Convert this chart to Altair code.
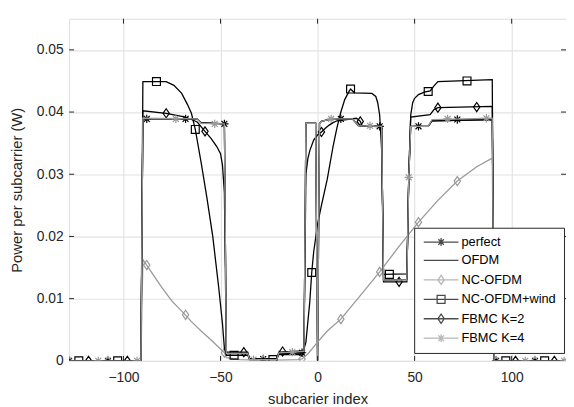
import altair as alt
import pandas as pd

SERIES = ["perfect", "OFDM", "NC-OFDM", "NC-OFDM+wind", "FBMC K=2", "FBMC K=4"]
COLORS = ["#000000", "#000000", "#999999", "#000000", "#000000", "#999999"]

# ---- line vertices (subcarrier index, power W) ----
perfect_x = [-128, -91, -90, -62, -60, -48, -47, -36, -35, -21, -20, -7, -6, -1, 0, 1, 2, 7, 18, 21, 33, 34, 46, 47, 48, 57, 59, 90, 91, 127]
perfect_y = [0, 0, 0.0389, 0.0389, 0.0383, 0.0381, 0.0012, 0.0012, 0.0003, 0.0003, 0.0012, 0.0013, 0.0382, 0.0382, 0.0, 0.0382, 0.0385, 0.0389, 0.0389, 0.0378, 0.0377, 0.0130, 0.0131, 0.0295, 0.0377, 0.0377, 0.0386, 0.0388, 0, 0]

ofdm_x = [-128, -91, -90, -62, -60, -48, -47, -36, -35, -21, -20, -7, -6, -1, 0, 1, 2, 7, 18, 21, 33, 34, 46, 47, 48, 57, 59, 90, 91, 127]
ofdm_y = [0, 0, 0.0389, 0.0389, 0.0383, 0.0381, 0.0012, 0.0012, 0.0003, 0.0003, 0.0012, 0.0013, 0.0382, 0.0382, 0.0, 0.0382, 0.0385, 0.0389, 0.0389, 0.0378, 0.0377, 0.0130, 0.0131, 0.0295, 0.0377, 0.0377, 0.0386, 0.0388, 0, 0]

nc_x = [-128, -91, -90, -85, -80, -75, -70, -65, -60, -55, -50, -48, -47, -40, -30, -20, -10, -8, -5, 0, 5, 12, 22, 32, 42, 52, 62, 72, 82, 90, 91, 127]
nc_y = [0, 0, 0.0163, 0.0140, 0.0117, 0.0096, 0.0080, 0.0063, 0.0048, 0.0034, 0.0019, 0.0013, 0.0005, 0.0002, 0.0001, 0.0001, 0.0002, 0.0003, 0.0011, 0.0030, 0.0048, 0.0067, 0.0105, 0.0143, 0.0184, 0.0223, 0.0258, 0.0289, 0.0312, 0.0326, 0, 0]

wind_x = [-128, -91, -90, -78, -74, -70, -67, -65, -63, -60, -57, -54, -51, -49, -48, -47, -36, -35, -21, -20, -9, -8, -6, -4, -3, -2, 0, 2, 5, 8, 10, 12, 14, 16, 17, 19, 28, 30, 31, 32, 33, 34, 46, 47, 48, 49, 50, 52, 55, 58, 60, 62, 90, 91, 127]
wind_y = [0, 0, 0.0449, 0.0449, 0.0443, 0.0430, 0.0412, 0.0398, 0.0372, 0.0319, 0.0262, 0.0200, 0.0120, 0.0060, 0.0020, 0.0009, 0.0009, 0.0002, 0.0002, 0.0010, 0.0010, 0.0008, 0.0030, 0.0095, 0.0142, 0.0175, 0.0220, 0.0250, 0.0292, 0.0345, 0.0375, 0.0400, 0.0420, 0.0432, 0.0437, 0.0431, 0.0430, 0.0425, 0.0415, 0.0395, 0.0340, 0.0139, 0.0140, 0.0300, 0.0395, 0.0415, 0.0422, 0.0428, 0.0432, 0.0434, 0.0442, 0.0449, 0.0452, 0, 0]

k2_x = [-128, -91, -90, -78, -68, -62, -58, -55, -52, -50, -49, -48, -47, -36, -35, -21, -20, -7, -6, -5, -4, -2, 0, 2, 4, 6, 8, 10, 20, 21, 22, 23, 33, 34, 46, 47, 48, 58, 60, 62, 90, 91, 127]
k2_y = [0, 0, 0.0402, 0.0398, 0.0392, 0.0384, 0.0369, 0.0358, 0.0345, 0.0333, 0.0315, 0.0270, 0.0014, 0.0014, 0.0003, 0.0003, 0.0014, 0.0016, 0.0300, 0.0325, 0.0338, 0.0355, 0.0363, 0.0368, 0.0374, 0.0379, 0.0383, 0.0386, 0.0390, 0.0388, 0.0385, 0.0378, 0.0376, 0.0127, 0.0127, 0.0300, 0.0392, 0.0396, 0.0404, 0.0407, 0.0409, 0, 0]

k4_x = [-128, -91, -90, -62, -60, -48, -47, -36, -35, -21, -20, -7, -6, -1, 0, 1, 2, 7, 18, 21, 33, 34, 46, 47, 48, 57, 59, 90, 91, 127]
k4_y = [0, 0, 0.0390, 0.0389, 0.0382, 0.0381, 0.0012, 0.0012, 0.0002, 0.0002, 0.0013, 0.0015, 0.0382, 0.0382, 0.0, 0.0382, 0.0385, 0.0389, 0.0389, 0.0378, 0.0377, 0.0130, 0.0130, 0.0295, 0.0377, 0.0377, 0.0388, 0.0390, 0, 0]

# ---- marker positions ----
perfect_mx = [-128, -108, -88, -68, -48, -28, -8, 12, 32, 52, 72, 92, 112]
perfect_my = [0, 0, 0.0389, 0.0389, 0.0381, 0.0003, 0.0013, 0.0389, 0.0377, 0.0377, 0.0388, 0, 0]
nc_mx = [-128, -108, -88, -68, -48, -28, -8, 12, 32, 52, 72, 92, 112]
nc_my = [0, 0, 0.0154, 0.0074, 0.0013, 0.0001, 0.0003, 0.0067, 0.0143, 0.0223, 0.0289, 0, 0]
wind_mx = [-123, -103, -83, -63, -43, -23, -3, 17, 37, 57, 77, 97, 117]
wind_my = [0, 0, 0.0449, 0.0372, 0.0009, 0.0002, 0.0142, 0.0437, 0.0139, 0.0433, 0.0450, 0, 0]
k2_mx = [-118, -98, -78, -58, -38, -18, 2, 22, 42, 62, 82, 102, 122]
k2_my = [0, 0, 0.0398, 0.0369, 0.0014, 0.0015, 0.0368, 0.0385, 0.0127, 0.0407, 0.0408, 0, 0]
k4_mx = [-113, -93, -73, -53, -33, -13, 7, 27, 47, 67, 87, 107, 127]
k4_my = [0, 0, 0.0389, 0.0381, 0.0002, 0.0014, 0.0389, 0.0378, 0.0295, 0.0389, 0.0390, 0, 0]

x_ticks = [-100, -50, 0, 50, 100]
y_ticks = [0, 0.01, 0.02, 0.03, 0.04, 0.05]

# ---- marker glyphs (unit square paths) ----
STAR = [("M", 0, -1), ("L", 0, 1), ("M", -1, 0), ("L", 1, 0), ("M", -0.7, -0.7), ("L", 0.7, 0.7), ("M", -0.7, 0.7), ("L", 0.7, -0.7)]
SQUARE = [("M", -1, -1), ("L", 1, -1), ("L", 1, 1), ("L", -1, 1), ("Z",)]
DIAMOND = [("M", 0, -1.15), ("L", 0.8, 0), ("L", 0, 1.15), ("L", -0.8, 0), ("Z",)]


def path(cmds, dx=0.0):
    out = []
    for c in cmds:
        if c[0] == "Z":
            out.append("Z")
        else:
            out.append(f"{c[0]}{c[1] + dx:.3f},{c[2]:.3f}")
    return "".join(out)


SHIFT = 3.2
LEG_LINE = f"M{SHIFT - 4.4:.3f},0L{SHIFT + 4.4:.3f},0"
MARKS = [STAR, None, DIAMOND, SQUARE, DIAMOND, STAR]
legend_paths = [LEG_LINE + (path(m, SHIFT) if m else "") for m in MARKS]

W, H = 504, 347
TXT = "#262626"
FONT = "Liberation Sans"

xscale = alt.Scale(domain=[-128, 128], nice=False, zero=False)
yscale = alt.Scale(domain=[0, 0.055], nice=False, zero=False)
xaxis = alt.Axis(values=x_ticks, grid=True, gridColor="#e3e3e3", gridWidth=1.2, domain=False,
                 ticks=False, tickSize=0, labelPadding=10, labelFontSize=14, labelColor=TXT,
                 labelFont=FONT, title="subcarier index", titleFont=FONT, titleFontSize=15,
                 titleFontWeight="normal", titleColor=TXT, titlePadding=7)
yaxis = alt.Axis(values=y_ticks, format=".2~f", grid=True, gridColor="#e3e3e3", gridWidth=1.2,
                 domain=False, ticks=False, tickSize=0, labelPadding=6, labelFontSize=14,
                 labelColor=TXT, labelFont=FONT, title="Power per subcarrier (W)", titleFont=FONT,
                 titleFontSize=15, titleFontWeight="normal", titleColor=TXT, titlePadding=12)


def X(field="x"):
    return alt.X(f"{field}:Q", scale=xscale, axis=xaxis)


def Y(field="y"):
    return alt.Y(f"{field}:Q", scale=yscale, axis=yaxis)


line_data = [(perfect_x, perfect_y), (ofdm_x, ofdm_y), (nc_x, nc_y), (wind_x, wind_y), (k2_x, k2_y), (k4_x, k4_y)]
mark_data = [(perfect_mx, perfect_my), None, (nc_mx, nc_my), (wind_mx, wind_my), (k2_mx, k2_my), (k4_mx, k4_my)]
glyph_sizes = [72, 0, 64, 64, 64, 72]

layers = []
for i, name in enumerate(SERIES):
    lx, ly = line_data[i]
    df = pd.DataFrame({"x": lx, "y": ly})
    layers.append(
        alt.Chart(df).mark_line(strokeWidth=1.3, color=COLORS[i], clip=True)
        .encode(x=X(), y=Y())
    )
    if mark_data[i] is not None:
        mx, my = mark_data[i]
        dm = pd.DataFrame({"x": mx, "y": my})
        layers.append(
            alt.Chart(dm).mark_point(shape=path(MARKS[i]), size=glyph_sizes[i], filled=False,
                                     color=COLORS[i], strokeWidth=1.2, opacity=1, clip=True)
            .encode(x=X(), y=Y())
        )

# inward ticks on all four sides
xt = pd.DataFrame({"x": x_ticks})
yt = pd.DataFrame({"y": y_ticks[1:]})
tick_style = dict(color=TXT, strokeWidth=1)
layers.append(alt.Chart(xt).mark_rule(**tick_style).encode(x=X(), y=alt.value(H), y2=alt.value(H - 5)))
layers.append(alt.Chart(xt).mark_rule(**tick_style).encode(x=X(), y=alt.value(0), y2=alt.value(5)))
layers.append(alt.Chart(yt).mark_rule(**tick_style).encode(y=Y(), x=alt.value(0), x2=alt.value(5)))
layers.append(alt.Chart(yt).mark_rule(**tick_style).encode(y=Y(), x=alt.value(W), x2=alt.value(W - 5)))

# legend (built from the series names through color & shape scales)
leg_df = pd.DataFrame({"series": SERIES, "x": [0] * 6, "y": [0] * 6})
legend = alt.Legend(title=None, orient="none", legendX=350, legendY=212, direction="vertical",
                    padding=8, strokeColor=TXT, fillColor="white", cornerRadius=0,
                    symbolSize=64, symbolStrokeWidth=1.3, labelFont=FONT, labelFontSize=13,
                    labelColor="#000000", labelOffset=27, rowPadding=4.7, labelLimit=300)
layers.append(
    alt.Chart(leg_df).transform_filter("datum.x > 1000")
    .mark_point(filled=False, strokeWidth=1.3)
    .encode(
        x=X(), y=Y(),
        color=alt.Color("series:N", scale=alt.Scale(domain=SERIES, range=COLORS), legend=legend, sort=SERIES),
        shape=alt.Shape("series:N", scale=alt.Scale(domain=SERIES, range=legend_paths), legend=legend, sort=SERIES),
    )
)

chart = (
    alt.layer(*layers)
    .properties(width=W, height=H, autosize=alt.AutoSizeParams(type="none"),
                padding={"left": 62, "top": 8, "right": 0, "bottom": 50})
    .configure_view(stroke=TXT, strokeWidth=1)
    .configure(background="white")
)

chart.save("out.html", embed_options={"renderer": "svg", "actions": False})
